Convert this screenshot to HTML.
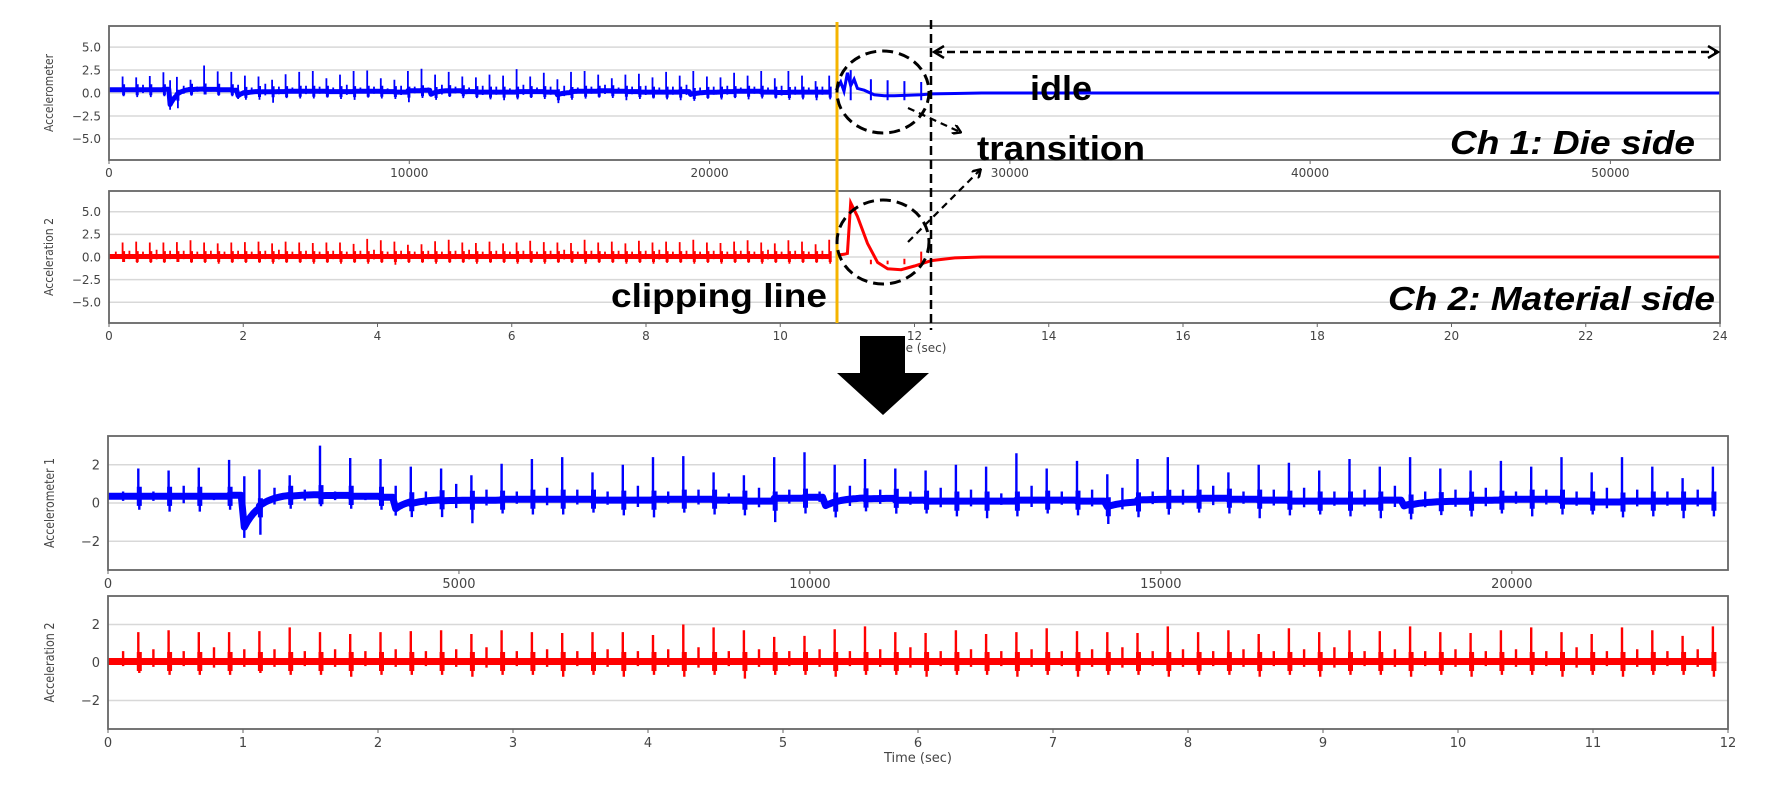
<!DOCTYPE html>
<html><head><meta charset="utf-8"><style>
html,body{margin:0;padding:0;background:#fff;}
svg{display:block;}
.tk{font-family:"DejaVu Sans","Liberation Sans",sans-serif;fill:#444;}
.ann{font-family:"Liberation Sans",sans-serif;font-weight:bold;fill:#000;}
</style></head><body>
<svg id="fig" width="1788" height="793" viewBox="0 0 1788 793" xmlns="http://www.w3.org/2000/svg">
<defs>
<marker id="ah" markerWidth="10" markerHeight="10" refX="8" refY="5" orient="auto" markerUnits="userSpaceOnUse"><path d="M1,0 L9,5 L1,10" fill="none" stroke="#000" stroke-width="2.5"/></marker>
<marker id="ah2" markerWidth="14" markerHeight="14" refX="12" refY="7" orient="auto-start-reverse" markerUnits="userSpaceOnUse"><path d="M2,1 L12,7 L2,13" fill="none" stroke="#000" stroke-width="2.5"/></marker>
</defs>
<g id="plots"></g>
<g id="annotations">
<line x1="837" y1="22" x2="837" y2="323" stroke="#f5b400" stroke-width="3"/>
<line x1="931" y1="20" x2="931" y2="330" stroke="#000" stroke-width="2.5" stroke-dasharray="9,5"/>
<line x1="934" y1="52" x2="1718" y2="52" stroke="#000" stroke-width="2.5" stroke-dasharray="8,5" marker-end="url(#ah2)" marker-start="url(#ah2)"/>
<ellipse cx="883" cy="92" rx="46" ry="41" fill="none" stroke="#000" stroke-width="3" stroke-dasharray="11,6"/>
<ellipse cx="883" cy="242" rx="46" ry="42" fill="none" stroke="#000" stroke-width="3" stroke-dasharray="11,6"/>
<line x1="908" y1="108" x2="960" y2="132" stroke="#000" stroke-width="2.2" stroke-dasharray="7,5" marker-end="url(#ah)"/>
<line x1="908" y1="242" x2="980" y2="170" stroke="#000" stroke-width="2.2" stroke-dasharray="7,5" marker-end="url(#ah)"/>
<text class="ann" x="1030" y="100" font-size="34" textLength="62" lengthAdjust="spacingAndGlyphs">idle</text>
<text class="ann" x="977" y="160" font-size="34" textLength="168" lengthAdjust="spacingAndGlyphs">transition</text>
<text class="ann" x="1450" y="154" font-size="33" font-style="italic" textLength="245" lengthAdjust="spacingAndGlyphs">Ch 1: Die side</text>
<text class="ann" x="1388" y="310" font-size="33" font-style="italic" textLength="327" lengthAdjust="spacingAndGlyphs">Ch 2: Material side</text>
<text class="ann" x="611" y="307" font-size="33" textLength="216" lengthAdjust="spacingAndGlyphs">clipping line</text>
<path d="M860,336 L905,336 L905,373 L929,373 L883,415 L837,373 L860,373 Z" fill="#000"/>
</g>
</svg>
<script>
// ---- data ----
const bluePeaks=[1.8,1.7,1.85,2.25,1.75,1.45,3.0,2.35,2.3,1.9,1.8,1.45,2.05,2.3,2.4,1.6,2.0,2.4,2.45,1.6,1.45,2.4,2.65,2.0,2.3,1.8,1.7,2.0,1.9,2.6,1.8,2.2,1.5,2.3,2.4,2.0,1.6,2.0,2.1,1.7,2.3,1.9,2.4,1.8,1.7,2.2,1.9,2.4,1.6,2.4,1.9,1.3,1.9];
const blueDips=[-0.7,-0.8,-0.8,-0.7,-1.4,-0.7,-0.6,-0.7,-0.7,-0.8,-0.9,-1.2,-0.7,-0.8,-0.8,-0.7,-0.8,-0.9,-0.7,-0.8,-0.8,-1.1,-0.8,-0.8,-0.7,-0.8,-0.7,-0.8,-0.9,-0.8,-0.7,-0.8,-0.9,-0.8,-0.8,-0.7,-0.8,-1.0,-0.8,-0.7,-0.8,-0.9,-0.8,-0.7,-0.8,-0.7,-0.9,-0.8,-0.7,-0.8,-0.8,-0.9,-0.8];
const blueMids=[0.6,0.6,0.9,0.5,1.4,0.8,0.7,0.6,0.5,0.9,0.6,1.0,0.7,0.6,0.8,0.7,0.6,0.9,0.6,0.7,0.5,0.8,0.7,0.6,0.9,0.7,0.6,0.8,0.7,0.5,0.9,0.6,0.7,0.8,0.6,0.7,0.9,0.6,0.7,0.8,0.6,0.7,0.9,0.6,0.7,0.8,0.6,0.7,0.6,0.8,0.7,0.6,0.7];
const blueLevels=[0.35,0.35,0.35,0.35,0.4,0.5,0.45,0.4,0.35,0.3,0.2,0.15,0.15,0.2,0.2,0.2,0.15,0.15,0.2,0.2,0.15,0.1,0.25,0.3,0.3,0.25,0.15,0.1,0.1,0.1,0.15,0.15,0.1,0.1,0.2,0.2,0.25,0.2,0.15,0.1,0.1,0.1,0.15,0.1,0.1,0.15,0.2,0.2,0.1,0.05,0.1,0.1,0.1];
const blueStepTimes=[1.0,2.13,5.3,7.4,9.6];
const blueStepDepths=[-1.8,-0.6,-0.5,-0.3,-0.3];
const redPeaks=[1.6,1.7,1.6,1.6,1.65,1.85,1.6,1.5,1.6,1.65,1.7,1.5,1.7,1.6,1.55,1.6,1.6,1.45,2.0,1.85,1.7,1.35,1.4,1.75,1.9,1.6,1.55,1.7,1.5,1.6,1.8,1.65,1.6,1.55,1.9,1.6,1.7,1.5,1.8,1.6,1.7,1.65,1.9,1.6,1.55,1.7,1.85,1.6,1.5,1.85,1.7,1.4,1.9];
const redDips=[-0.6,-0.7,-0.7,-0.7,-0.6,-0.7,-0.7,-0.8,-0.7,-0.7,-0.7,-0.8,-0.7,-0.7,-0.8,-0.7,-0.8,-0.7,-0.8,-0.7,-0.9,-0.7,-0.7,-0.8,-0.7,-0.7,-0.8,-0.7,-0.7,-0.8,-0.7,-0.8,-0.7,-0.7,-0.8,-0.7,-0.7,-0.8,-0.7,-0.8,-0.7,-0.7,-0.8,-0.7,-0.8,-0.7,-0.7,-0.8,-0.7,-0.8,-0.7,-0.7,-0.8];
const redMids=[0.6,0.7,0.6,0.8,0.7,0.7,0.6,0.7,0.6,0.7,0.6,0.7,0.8,0.6,0.7,0.6,0.7,0.6,0.7,0.8,0.6,0.7,0.6,0.7,0.6,0.7,0.8,0.6,0.7,0.6,0.7,0.6,0.7,0.8,0.6,0.7,0.6,0.7,0.6,0.7,0.8,0.6,0.7,0.6,0.7,0.6,0.7,0.6,0.8,0.6,0.7,0.6,0.7];
const transBlueT=[10.83,10.9,10.95,11.0,11.05,11.1,11.15,11.25,11.4,11.55,11.7,11.9,12.1,12.25,12.6,13.0,24];
const transBlueV=[0.3,1.2,0.2,2.2,0.8,1.5,0.5,0.3,-0.2,-0.3,-0.3,-0.25,-0.2,-0.1,-0.05,0,0];
const transBlueSpikeT=[11.05,11.35,11.6,11.85,12.1];
const transBlueSpikeV=[2.5,1.5,1.4,1.3,1.2];
const transRedT=[10.83,10.95,11.0,11.05,11.15,11.3,11.45,11.6,11.8,12.0,12.25,12.6,13.0,24];
const transRedV=[0.2,0.3,0.4,6.0,4.5,1.5,-0.6,-1.3,-1.4,-1.0,-0.4,-0.1,0,0];
const xTicksTop1=[0,10000,20000,30000,40000,50000];
const xTicksTop2=[0,2,4,6,8,10,12,14,16,18,20,22,24];
const yTicksTop=[5.0,2.5,0.0,-2.5,-5.0];
const xTicksBot1=[0,5000,10000,15000,20000];
const xTicksBot2=[0,1,2,3,4,5,6,7,8,9,10,11,12];
const yTicksBot=[2,0,-2];

// ---- rendering ----
const NS='http://www.w3.org/2000/svg';
const root=document.getElementById('plots');
function mk(tag,attrs,parent){const e=document.createElementNS(NS,tag);for(const k in attrs)e.setAttribute(k,attrs[k]);(parent||root).appendChild(e);return e;}
const PERIOD=0.2243;
function spikeT(i){return PERIOD*(i+1);}
function baseline(i,t,levels,stT,stD){let v=levels[i];for(let k=0;k<stT.length;k++){if(t>=stT[k]){v+=stD[k]*Math.exp(-(t-stT[k])/0.12);}}return v;}

function panel(o){
  const g=mk('g',{});
  
  
  const X=v=>o.x0+(v-o.xmin)/(o.xmax-o.xmin)*(o.x1-o.x0);
  const Y=v=>o.y0+(o.ymax-v)/(o.ymax-o.ymin)*(o.y1-o.y0);
  o.yTicks.forEach(v=>{
    const l=mk('line',{x1:o.x0,x2:o.x1,y1:Y(v),y2:Y(v),stroke:'#d8d8d8','stroke-width':1.5},g);
    
    
    const t=mk('text',{x:o.x0-8,y:Y(v)+o.fs*0.36,'text-anchor':'end','font-size':o.fs,class:'tk'},g);
    
    
    t.textContent=o.yFmt(v);
  });
  o.xTicks.forEach(v=>{
    mk('line',{x1:X(v),x2:X(v),y1:o.y1,y2:o.y1+4,stroke:'#666','stroke-width':1},g);
    const t=mk('text',{x:X(v),y:o.y1+o.fs+5,'text-anchor':'middle','font-size':o.fs,class:'tk'},g);
    
    
    t.textContent=v;
  });
  if(o.ylabel){
    const cy=(o.y0+o.y1)/2;
    const t=mk('text',{x:o.ylx,y:cy,'text-anchor':'middle','font-size':o.fs,class:'tk',transform:`rotate(-90 ${o.ylx} ${cy})`,textLength:o.ylLen,lengthAdjust:'spacingAndGlyphs'},g);
    
    
    t.textContent=o.ylabel;
  }
  const plot=mk('g',{},g);
  
  
  o.draw(plot,X,Y);
  const fr=mk('rect',{x:o.x0,y:o.y0,width:o.x1-o.x0,height:o.y1-o.y0,fill:'none',stroke:'#666','stroke-width':1.8},g);
  
  
  return {X,Y};
}

function series(plot,X,Y,timeMap,color,peaks,dips,mids,levels,stT,stD,bandW,spW,burstW,burstAmp,tEnd){
  let band='',sp='',burst='';
  let prevT=0;
  for(let i=0;i<peaks.length;i++){
    const ts=spikeT(i);if(ts>tEnd)break;
    const N=10;
    for(let k=0;k<=N;k++){const t=prevT+(ts-prevT)*k/N;const b=baseline(i,t,levels,stT,stD);band+=(band?'L':'M')+X(timeMap(t)).toFixed(1)+','+Y(b).toFixed(1);}
    const tm=ts-PERIOD/2;const bm=baseline(i,tm,levels,stT,stD);
    const xm=X(timeMap(tm));
    sp+='M'+xm.toFixed(1)+','+Y(bm-mids[i]*0.4).toFixed(1)+'L'+xm.toFixed(1)+','+Y(mids[i]).toFixed(1);
    const bs=baseline(i,ts,levels,stT,stD);
    const xs=X(timeMap(ts));
    sp+='M'+xs.toFixed(1)+','+Y(bs).toFixed(1)+'L'+xs.toFixed(1)+','+Y(peaks[i]).toFixed(1)+'M'+(xs+1).toFixed(1)+','+Y(bs).toFixed(1)+'L'+(xs+1).toFixed(1)+','+Y(bs+dips[i]).toFixed(1);
    burst+='M'+(xs+1).toFixed(1)+','+Y(bs+burstAmp).toFixed(1)+'L'+(xs+1).toFixed(1)+','+Y(bs-burstAmp).toFixed(1);
    prevT=ts;
  }
  const p1=mk('path',{d:band,fill:'none',stroke:color,'stroke-width':bandW,'stroke-linejoin':'round'},plot);
  
  
  const p3=mk('path',{d:burst,fill:'none',stroke:color,'stroke-width':burstW,'stroke-linecap':'butt'},plot);
  
  
  const p2=mk('path',{d:sp,fill:'none',stroke:color,'stroke-width':spW},plot);
  
  
}
function trans(plot,X,Y,tt,vv,color,w,toX){
  let d='';tt.forEach((t,i)=>{d+=(i?'L':'M')+X(toX(t)).toFixed(1)+','+Y(vv[i]).toFixed(1);});
  const p=mk('path',{d:d,fill:'none',stroke:color,'stroke-width':w},plot);
  
  
}
function transSpikes(plot,X,Y,tt,vv,color,toX){
  let d='';tt.forEach((t,i)=>{const x=X(toX(t)).toFixed(1);d+='M'+x+','+Y(-0.8).toFixed(1)+'L'+x+','+Y(vv[i]).toFixed(1);});
  const p=mk('path',{d:d,fill:'none',stroke:color,'stroke-width':2},plot);
  
  
}
const SPS=53650/24;
const CLIP=10.83/12;
function redLevels(){return redPeaks.map(()=>0.05);}
// top ch1
panel({name:'panel-ch1-full',x0:109,x1:1720,y0:26,y1:160,xmin:0,xmax:53650,ymin:-7.3,ymax:7.3,xTicks:xTicksTop1,yTicks:yTicksTop,fs:12,yFmt:v=>(v<0?'\u2212':'')+Math.abs(v).toFixed(1),ylabel:'Accelerometer',ylx:53,ylLen:78,color:'blue',
 draw:(pl,X,Y)=>{series(pl,X,Y,t=>t*CLIP*SPS,'#0000ff',bluePeaks,blueDips,blueMids,blueLevels,blueStepTimes,blueStepDepths,5,1.8,3,0.6,12);trans(pl,X,Y,transBlueT,transBlueV,'#0000ff',3,t=>t*SPS);transSpikes(pl,X,Y,transBlueSpikeT,transBlueSpikeV,'#0000ff',t=>t*SPS);}});
// top ch2
panel({name:'panel-ch2-full',x0:109,x1:1720,y0:191,y1:323,xmin:0,xmax:24,ymin:-7.3,ymax:7.3,xTicks:xTicksTop2,yTicks:yTicksTop,fs:12,yFmt:v=>(v<0?'\u2212':'')+Math.abs(v).toFixed(1),ylabel:'Acceleration 2',ylx:53,ylLen:78,color:'red',
 draw:(pl,X,Y)=>{series(pl,X,Y,t=>t*CLIP,'#ff0000',redPeaks,redDips,redMids,redLevels(),[],[],5,1.8,3,0.6,12);trans(pl,X,Y,transRedT,transRedV,'#ff0000',3,t=>t);transSpikes(pl,X,Y,transBlueSpikeT.slice(1),[-0.3,-0.4,-0.2,0.6],'#ff0000',t=>t);}});
{const t=mk('text',{x:915,y:352,'text-anchor':'middle','font-size':12,class:'tk'});t.textContent='Time (sec)';}
// bottom ch1
panel({name:'panel-ch1-clipped',x0:108,x1:1728,y0:436,y1:570,xmin:0,xmax:23080,ymin:-3.5,ymax:3.5,xTicks:xTicksBot1,yTicks:yTicksBot,fs:13,yFmt:v=>(v<0?'\u2212':'')+Math.abs(v),ylabel:'Accelerometer 1',ylx:54,ylLen:90,color:'blue',
 draw:(pl,X,Y)=>{series(pl,X,Y,t=>t*23080/12,'#0000ff',bluePeaks,blueDips,blueMids,blueLevels,blueStepTimes,blueStepDepths,7,2.4,5,0.5,12);}});
// bottom ch2
panel({name:'panel-ch2-clipped',x0:108,x1:1728,y0:596,y1:729,xmin:0,xmax:12,ymin:-3.5,ymax:3.5,xTicks:xTicksBot2,yTicks:yTicksBot,fs:13,yFmt:v=>(v<0?'\u2212':'')+Math.abs(v),ylabel:'Acceleration 2',ylx:54,ylLen:80,color:'red',
 draw:(pl,X,Y)=>{series(pl,X,Y,t=>t,'#ff0000',redPeaks,redDips,redMids,redLevels(),[],[],7,2.4,5,0.5,12);}});
{const t=mk('text',{x:918,y:762,'text-anchor':'middle','font-size':13,class:'tk'});t.textContent='Time (sec)';}
document.getElementById('fig').appendChild(document.getElementById('annotations'));
</script>
</body></html>
